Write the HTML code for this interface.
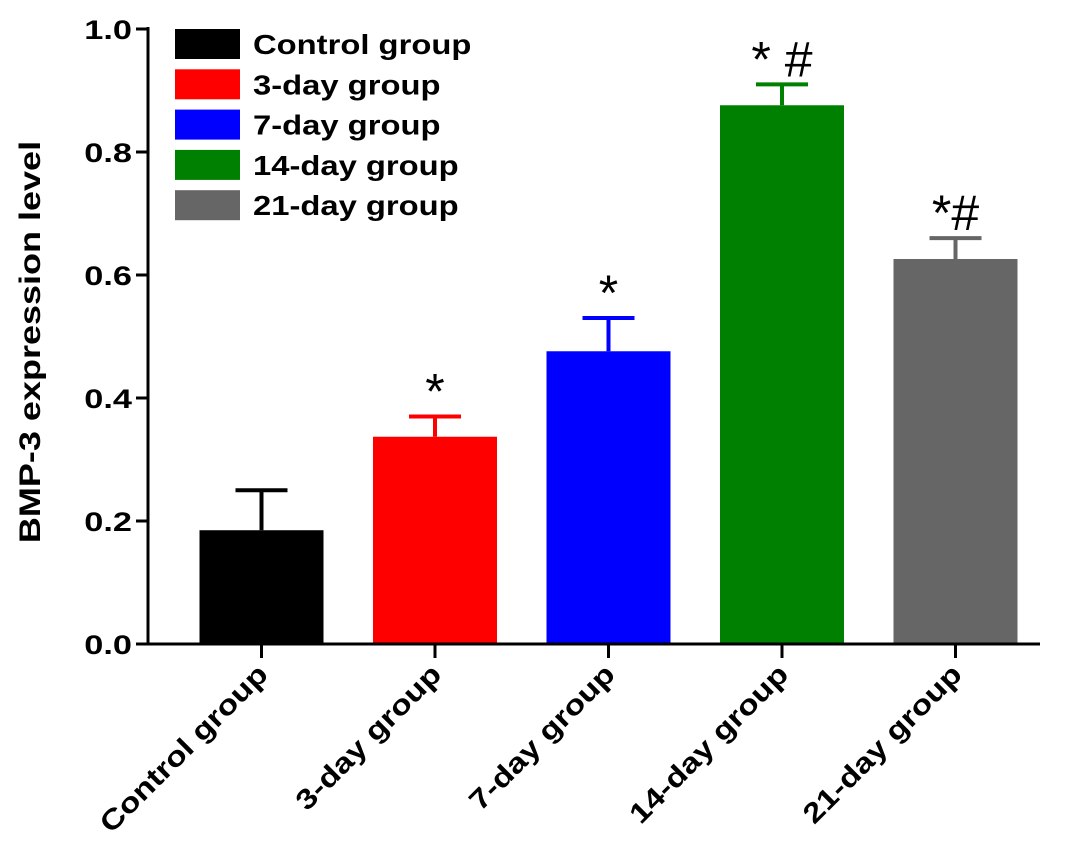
<!DOCTYPE html>
<html><head><meta charset="utf-8">
<style>
html,body{margin:0;padding:0;background:#fff;}
svg{display:block;font-family:"Liberation Sans",Arial,sans-serif;font-weight:bold;}
</style></head>
<body>
<svg id="chart" width="1087" height="842" viewBox="0 0 1087 842" xmlns="http://www.w3.org/2000/svg"></svg>
<script>
const categories = ["Control group","3-day group","7-day group","14-day group","21-day group"];
const values = [0.185, 0.337, 0.476, 0.876, 0.626];
const errors = [0.065, 0.033, 0.054, 0.034, 0.034];
const marks = ["", "*", "*", "* #", "*#"];
const colors = ["#000000","#ff0000","#0000ff","#008000","#666666"];
const yTicks = [0.0,0.2,0.4,0.6,0.8,1.0];
const yTickLabels = ["0.0","0.2","0.4","0.6","0.8","1.0"];

const NS="http://www.w3.org/2000/svg";
const svg=document.getElementById('chart');
const x0=148, y0=644, yTop=29;
const y=v=>y0-(y0-yTop)*v;
const step=173.5, bw=124, firstCenter=261.5;
const xc=i=>firstCenter+i*step;
function mk(tag,attrs,parent){const e=document.createElementNS(NS,tag);for(const k in attrs)e.setAttribute(k,attrs[k]);(parent||svg).appendChild(e);return e;}
function stretch(t,k){const L=t.getComputedTextLength();t.setAttribute('textLength',L*k);t.setAttribute('lengthAdjust','spacingAndGlyphs');}

categories.forEach((c,i)=>{
  const g=mk('g',{});
  
  
  const top=y(values[i]), et=y(values[i]+errors[i]);
  mk('rect',{x:xc(i)-bw/2,y:top,width:bw,height:y0-top,fill:colors[i]},g);
  mk('line',{x1:xc(i),x2:xc(i),y1:top,y2:et,stroke:colors[i],'stroke-width':4},g);
  mk('line',{x1:xc(i)-26,x2:xc(i)+26,y1:et,y2:et,stroke:colors[i],'stroke-width':4},g);
  if(marks[i]){
    const t=mk('text',{x:xc(i),y:et-8,'text-anchor':'middle','font-size':50,'font-weight':'normal',fill:'#000'});
    t.textContent=marks[i];
    
    
  }
  mk('line',{x1:xc(i),x2:xc(i),y1:y0,y2:y0+14,stroke:'#000','stroke-width':3});
  const lx=xc(i)+8, ly=y0+32;
  const lt=mk('text',{x:lx,y:ly,'text-anchor':'end','font-size':28,transform:`rotate(-45 ${lx} ${ly})`});
  lt.textContent=c;
  
  
  stretch(lt,1.2);
});

const ax=mk('g',{});


mk('line',{x1:x0,x2:x0,y1:yTop-2,y2:y0+1.5,stroke:'#000','stroke-width':3},ax);
mk('line',{x1:x0-1.5,x2:1040,y1:y0,y2:y0,stroke:'#000','stroke-width':3},ax);
yTicks.forEach((v,i)=>{
  mk('line',{x1:x0-12,x2:x0,y1:y(v),y2:y(v),stroke:'#000','stroke-width':3},ax);
  const t=mk('text',{x:x0-16,y:y(v)+10,'text-anchor':'end','font-size':27},ax);
  t.textContent=yTickLabels[i];
  
  
  stretch(t,1.27);
});
const yt=mk('text',{x:40,y:342,'text-anchor':'middle','font-size':30,transform:'rotate(-90 40 342)'});
yt.textContent="BMP-3 expression level";


stretch(yt,1.2);

const lg=mk('g',{});


categories.forEach((c,i)=>{
  const cy=44+i*40.3;
  const e=mk('g',{},lg);
  
  
  mk('rect',{x:175,y:cy-15,width:65,height:30,fill:colors[i]},e);
  const t=mk('text',{x:253,y:cy+10,'font-size':28},e);
  t.textContent=c;
  stretch(t,1.17);
});
</script>
</body></html>
